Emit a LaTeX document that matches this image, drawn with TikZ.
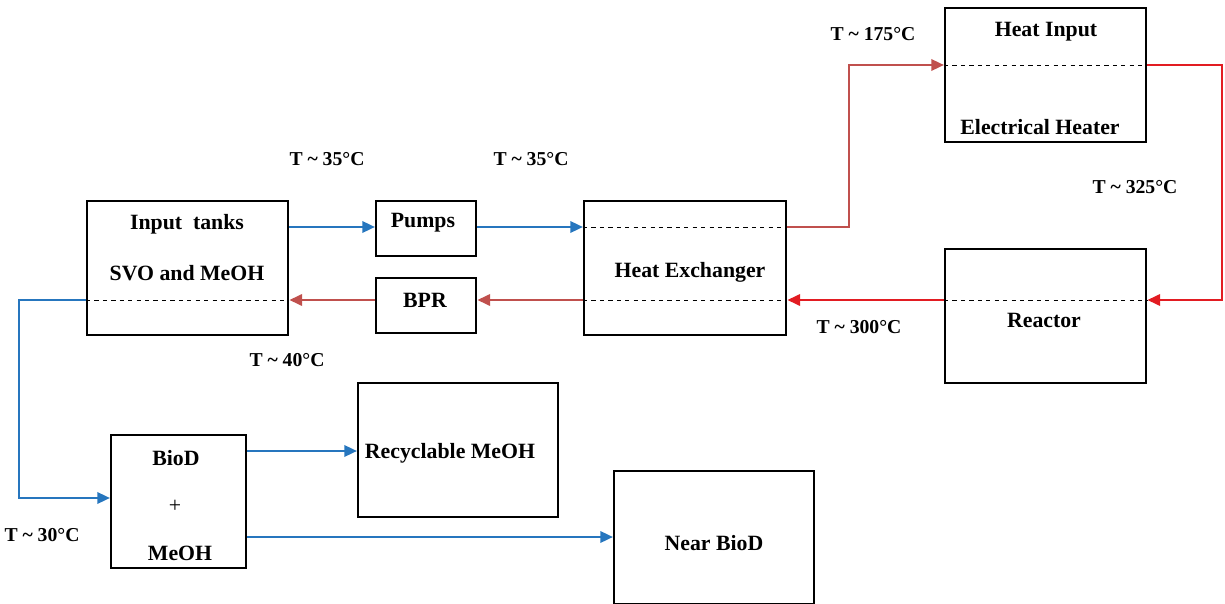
\documentclass[tikz,border=0pt]{standalone}
\usepackage{fontspec}
\setmainfont{Liberation Serif}
\usetikzlibrary{calc,arrows.meta,positioning}
\definecolor{flowBlue}{RGB}{38,118,190}
\definecolor{flowBrown}{RGB}{192,80,77}
\definecolor{flowRed}{RGB}{226,28,34}

\tikzset{
    blk/.style={draw=black, line width=1.7pt, anchor=north west, inner sep=0pt},
    dims/.style 2 args={minimum width=#1*0.025cm, minimum height=#2*0.025cm},
    lbl/.style={font=\fontsize{15.5}{18}\selectfont\bfseries, inner sep=1pt, yshift=-2pt},
    tlbl/.style={font=\fontsize{14}{17}\selectfont\bfseries, inner sep=1pt, yshift=-1pt},
    sep/.style={black, dashed, line width=0.7pt},
    flow/.style={line width=1.8pt, -{Triangle[length=9pt,width=8pt]}},
}

\begin{document}
\begin{tikzpicture}[x=0.025cm,y=-0.025cm]
    \useasboundingbox (0,0) rectangle (1225,604);

    % Boxes
    \node[blk, dims={201}{134}] (tanks)   at (86,200)  {};
    \node[blk, dims={100}{55}]  (pumps)   at (375,200) {};
    \node[blk, dims={100}{55}]  (bpr)     at (375,277) {};
    \node[blk, dims={202}{134}] (hx)      at (583,200) {};
    \node[blk, dims={201}{134}] (heater)  at (944,7)   {};
    \node[blk, dims={201}{134}] (reactor) at (944,248) {};
    \node[blk, dims={135}{133}] (mix)     at (110,434) {};
    \node[blk, dims={200}{134}] (recyc)   at (357,382) {};
    \node[blk, dims={200}{133}] (near)    at (613,470) {};

    % Flow levels
    \coordinate (upline)   at (0,227);
    \coordinate (lowline)  at (0,300);
    \coordinate (heatline) at (0,65);
    \coordinate (mixin)    at (0,498);
    \coordinate (outA)     at (0,451);
    \coordinate (outB)     at (0,537);
    \coordinate (bendA)    at (849,0);
    \coordinate (bendB)    at (1222,0);
    \coordinate (bendC)    at (19,0);

    % Dashed lines inside the boxes
    \draw[sep] (tanks.west |- lowline) -- (tanks.east |- lowline);
    \draw[sep] (hx.west |- upline) -- (hx.east |- upline);
    \draw[sep] (hx.west |- lowline) -- (hx.east |- lowline);
    \draw[sep] (heater.west |- heatline) -- (heater.east |- heatline);
    \draw[sep] (reactor.west |- lowline) -- (reactor.east |- lowline);

    % Box texts
    \node[lbl] (tanksA)   at (187,221) {Input\ \ tanks};
    \node[lbl] (tanksB)   at (187,270) {SVO and MeOH};
    \node[lbl] (pumpsT)   at (423,220) {Pumps};
    \node[lbl] (bprT)     at (425,298) {BPR};
    \node[lbl] (hxT)      at (690,270) {Heat Exchanger};
    \node[lbl] (heaterA)  at (1046,29) {Heat Input};
    \node[lbl] (heaterB)  at (1040,124) {Electrical Heater};
    \node[lbl] (reactorT) at (1044,318) {Reactor};
    \node[lbl] (mixA)     at (176,455) {BioD};
    \node[lbl, font=\fontsize{15.5}{18}\selectfont] (mixB) at (175,504) {+};
    \node[lbl] (mixC)     at (180,551) {MeOH};
    \node[lbl] (recycT)   at (450,450) {Recyclable MeOH};
    \node[lbl] (nearT)    at (714,540) {Near BioD};

    % Temperatures
    \node[tlbl] (tA) at (327,158)  {T \textasciitilde\ 35°C};
    \node[tlbl] (tB) at (531,158)  {T \textasciitilde\ 35°C};
    \node[tlbl] (tC) at (873,33)   {T \textasciitilde\ 175°C};
    \node[tlbl] (tD) at (1135,186) {T \textasciitilde\ 325°C};
    \node[tlbl] (tE) at (859,326)  {T \textasciitilde\ 300°C};
    \node[tlbl] (tF) at (287,359)  {T \textasciitilde\ 40°C};
    \node[tlbl] (tG) at (42,534)   {T \textasciitilde\ 30°C};

    % Flows
    \draw[flow, flowBlue] (tanks.east |- upline) -- (pumps.west |- upline);
    \draw[flow, flowBlue] (pumps.east |- upline) -- (hx.west |- upline);
    \draw[flow, flowBrown] (hx.east |- upline) -| (bendA |- heatline) -- (heater.west |- heatline);
    \draw[flow, flowRed] (heater.east |- heatline) -| (bendB |- lowline) -- (reactor.east |- lowline);
    \draw[flow, flowRed] (reactor.west |- lowline) -- (hx.east |- lowline);
    \draw[flow, flowBrown] (hx.west |- lowline) -- (bpr.east |- lowline);
    \draw[flow, flowBrown] (bpr.west |- lowline) -- (tanks.east |- lowline);
    \draw[flow, flowBlue] (tanks.west |- lowline) -| (bendC |- mixin) -- (mix.west |- mixin);
    \draw[flow, flowBlue] (mix.east |- outA) -- (recyc.west |- outA);
    \draw[flow, flowBlue] (mix.east |- outB) -- (near.west |- outB);

\end{tikzpicture}
\end{document}
